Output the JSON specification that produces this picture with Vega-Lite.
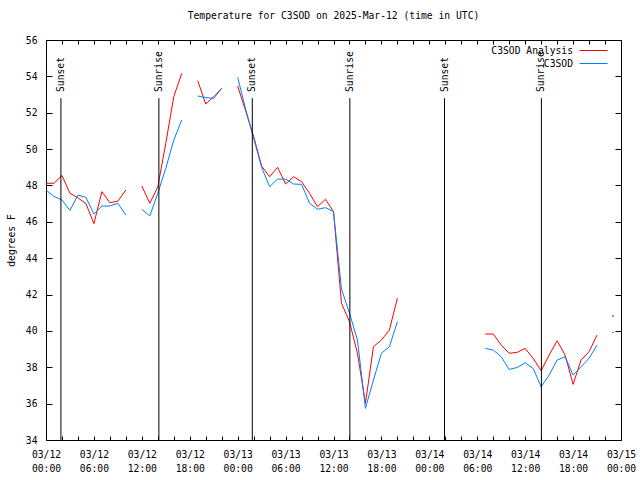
{
  "$schema": "https://vega.github.io/schema/vega-lite/v6.json",
  "width": 575,
  "height": 400,
  "autosize": {"type": "none"},
  "padding": {"left": 46, "top": 40, "right": 19, "bottom": 40},
  "background": "white",
  "title": {"text": "Temperature for C3SOD on 2025-Mar-12 (time in UTC)", "anchor": "middle", "font": "DejaVu Sans Mono", "fontSize": 9.7, "fontWeight": "normal", "color": "black", "offset": 14},
  "config": {
    "view": {"stroke": "black", "strokeWidth": 1},
    "axis": {"domain": false, "grid": false, "labelFont": "DejaVu Sans Mono", "labelFontSize": 9.7, "labelColor": "black", "tickColor": "black", "tickWidth": 1, "titleFont": "DejaVu Sans Mono", "titleFontSize": 9.7, "titleFontWeight": "normal", "titleColor": "black"}
  },
  "datasets": {
    "temps": [
      {"t": "2025-03-12T00:00:00Z", "series": "C3SOD Analysis", "temp": 48.12},
      {"t": "2025-03-12T01:00:00Z", "series": "C3SOD Analysis", "temp": 48.12},
      {"t": "2025-03-12T02:00:00Z", "series": "C3SOD Analysis", "temp": 48.55},
      {"t": "2025-03-12T03:00:00Z", "series": "C3SOD Analysis", "temp": 47.57},
      {"t": "2025-03-12T04:00:00Z", "series": "C3SOD Analysis", "temp": 47.32},
      {"t": "2025-03-12T05:00:00Z", "series": "C3SOD Analysis", "temp": 47.0},
      {"t": "2025-03-12T06:00:00Z", "series": "C3SOD Analysis", "temp": 45.9},
      {"t": "2025-03-12T07:00:00Z", "series": "C3SOD Analysis", "temp": 47.66},
      {"t": "2025-03-12T08:00:00Z", "series": "C3SOD Analysis", "temp": 47.05},
      {"t": "2025-03-12T09:00:00Z", "series": "C3SOD Analysis", "temp": 47.14},
      {"t": "2025-03-12T10:00:00Z", "series": "C3SOD Analysis", "temp": 47.75},
      {"t": "2025-03-12T11:00:00Z", "series": "C3SOD Analysis", "temp": null},
      {"t": "2025-03-12T12:00:00Z", "series": "C3SOD Analysis", "temp": 47.97},
      {"t": "2025-03-12T13:00:00Z", "series": "C3SOD Analysis", "temp": 47.02},
      {"t": "2025-03-12T14:00:00Z", "series": "C3SOD Analysis", "temp": 47.92},
      {"t": "2025-03-12T15:00:00Z", "series": "C3SOD Analysis", "temp": 50.32},
      {"t": "2025-03-12T16:00:00Z", "series": "C3SOD Analysis", "temp": 52.88},
      {"t": "2025-03-12T17:00:00Z", "series": "C3SOD Analysis", "temp": 54.17},
      {"t": "2025-03-12T18:00:00Z", "series": "C3SOD Analysis", "temp": null},
      {"t": "2025-03-12T19:00:00Z", "series": "C3SOD Analysis", "temp": 53.76},
      {"t": "2025-03-12T20:00:00Z", "series": "C3SOD Analysis", "temp": 52.48},
      {"t": "2025-03-12T21:00:00Z", "series": "C3SOD Analysis", "temp": 52.88},
      {"t": "2025-03-12T22:00:00Z", "series": "C3SOD Analysis", "temp": 53.34},
      {"t": "2025-03-12T23:00:00Z", "series": "C3SOD Analysis", "temp": null},
      {"t": "2025-03-13T00:00:00Z", "series": "C3SOD Analysis", "temp": 53.47},
      {"t": "2025-03-13T01:00:00Z", "series": "C3SOD Analysis", "temp": 52.1},
      {"t": "2025-03-13T02:00:00Z", "series": "C3SOD Analysis", "temp": 50.7},
      {"t": "2025-03-13T03:00:00Z", "series": "C3SOD Analysis", "temp": 49.07},
      {"t": "2025-03-13T04:00:00Z", "series": "C3SOD Analysis", "temp": 48.48},
      {"t": "2025-03-13T05:00:00Z", "series": "C3SOD Analysis", "temp": 49.0},
      {"t": "2025-03-13T06:00:00Z", "series": "C3SOD Analysis", "temp": 48.08},
      {"t": "2025-03-13T07:00:00Z", "series": "C3SOD Analysis", "temp": 48.48},
      {"t": "2025-03-13T08:00:00Z", "series": "C3SOD Analysis", "temp": 48.21},
      {"t": "2025-03-13T09:00:00Z", "series": "C3SOD Analysis", "temp": 47.57},
      {"t": "2025-03-13T10:00:00Z", "series": "C3SOD Analysis", "temp": 46.83},
      {"t": "2025-03-13T11:00:00Z", "series": "C3SOD Analysis", "temp": 47.24},
      {"t": "2025-03-13T12:00:00Z", "series": "C3SOD Analysis", "temp": 46.56},
      {"t": "2025-03-13T13:00:00Z", "series": "C3SOD Analysis", "temp": 41.52},
      {"t": "2025-03-13T14:00:00Z", "series": "C3SOD Analysis", "temp": 40.51},
      {"t": "2025-03-13T15:00:00Z", "series": "C3SOD Analysis", "temp": 38.77},
      {"t": "2025-03-13T16:00:00Z", "series": "C3SOD Analysis", "temp": 36.02},
      {"t": "2025-03-13T17:00:00Z", "series": "C3SOD Analysis", "temp": 39.13},
      {"t": "2025-03-13T18:00:00Z", "series": "C3SOD Analysis", "temp": 39.5},
      {"t": "2025-03-13T19:00:00Z", "series": "C3SOD Analysis", "temp": 40.05},
      {"t": "2025-03-13T20:00:00Z", "series": "C3SOD Analysis", "temp": 41.8},
      {"t": "2025-03-13T21:00:00Z", "series": "C3SOD Analysis", "temp": null},
      {"t": "2025-03-14T07:00:00Z", "series": "C3SOD Analysis", "temp": 39.83},
      {"t": "2025-03-14T08:00:00Z", "series": "C3SOD Analysis", "temp": 39.83},
      {"t": "2025-03-14T09:00:00Z", "series": "C3SOD Analysis", "temp": 39.22},
      {"t": "2025-03-14T10:00:00Z", "series": "C3SOD Analysis", "temp": 38.77},
      {"t": "2025-03-14T11:00:00Z", "series": "C3SOD Analysis", "temp": 38.82},
      {"t": "2025-03-14T12:00:00Z", "series": "C3SOD Analysis", "temp": 39.04},
      {"t": "2025-03-14T13:00:00Z", "series": "C3SOD Analysis", "temp": 38.49},
      {"t": "2025-03-14T14:00:00Z", "series": "C3SOD Analysis", "temp": 37.81},
      {"t": "2025-03-14T15:00:00Z", "series": "C3SOD Analysis", "temp": 38.67},
      {"t": "2025-03-14T16:00:00Z", "series": "C3SOD Analysis", "temp": 39.46},
      {"t": "2025-03-14T17:00:00Z", "series": "C3SOD Analysis", "temp": 38.67},
      {"t": "2025-03-14T18:00:00Z", "series": "C3SOD Analysis", "temp": 37.06},
      {"t": "2025-03-14T19:00:00Z", "series": "C3SOD Analysis", "temp": 38.4},
      {"t": "2025-03-14T20:00:00Z", "series": "C3SOD Analysis", "temp": 38.86},
      {"t": "2025-03-14T21:00:00Z", "series": "C3SOD Analysis", "temp": 39.77},
      {"t": "2025-03-14T22:00:00Z", "series": "C3SOD Analysis", "temp": null},
      {"t": "2025-03-14T23:00:00Z", "series": "C3SOD Analysis", "temp": 40.82},
      {"t": "2025-03-12T00:00:00Z", "series": "C3SOD", "temp": 47.75},
      {"t": "2025-03-12T01:00:00Z", "series": "C3SOD", "temp": 47.4},
      {"t": "2025-03-12T02:00:00Z", "series": "C3SOD", "temp": 47.2},
      {"t": "2025-03-12T03:00:00Z", "series": "C3SOD", "temp": 46.63},
      {"t": "2025-03-12T04:00:00Z", "series": "C3SOD", "temp": 47.47},
      {"t": "2025-03-12T05:00:00Z", "series": "C3SOD", "temp": 47.35},
      {"t": "2025-03-12T06:00:00Z", "series": "C3SOD", "temp": 46.43},
      {"t": "2025-03-12T07:00:00Z", "series": "C3SOD", "temp": 46.87},
      {"t": "2025-03-12T08:00:00Z", "series": "C3SOD", "temp": 46.87},
      {"t": "2025-03-12T09:00:00Z", "series": "C3SOD", "temp": 47.02},
      {"t": "2025-03-12T10:00:00Z", "series": "C3SOD", "temp": 46.37},
      {"t": "2025-03-12T11:00:00Z", "series": "C3SOD", "temp": null},
      {"t": "2025-03-12T12:00:00Z", "series": "C3SOD", "temp": 46.69},
      {"t": "2025-03-12T13:00:00Z", "series": "C3SOD", "temp": 46.32},
      {"t": "2025-03-12T14:00:00Z", "series": "C3SOD", "temp": 47.57},
      {"t": "2025-03-12T15:00:00Z", "series": "C3SOD", "temp": 48.94},
      {"t": "2025-03-12T16:00:00Z", "series": "C3SOD", "temp": 50.5},
      {"t": "2025-03-12T17:00:00Z", "series": "C3SOD", "temp": 51.6},
      {"t": "2025-03-12T18:00:00Z", "series": "C3SOD", "temp": null},
      {"t": "2025-03-12T19:00:00Z", "series": "C3SOD", "temp": 52.92},
      {"t": "2025-03-12T20:00:00Z", "series": "C3SOD", "temp": 52.83},
      {"t": "2025-03-12T21:00:00Z", "series": "C3SOD", "temp": 52.79},
      {"t": "2025-03-12T22:00:00Z", "series": "C3SOD", "temp": 53.34},
      {"t": "2025-03-12T23:00:00Z", "series": "C3SOD", "temp": null},
      {"t": "2025-03-13T00:00:00Z", "series": "C3SOD", "temp": 53.95},
      {"t": "2025-03-13T01:00:00Z", "series": "C3SOD", "temp": 52.2},
      {"t": "2025-03-13T02:00:00Z", "series": "C3SOD", "temp": 50.6},
      {"t": "2025-03-13T03:00:00Z", "series": "C3SOD", "temp": 49.0},
      {"t": "2025-03-13T04:00:00Z", "series": "C3SOD", "temp": 47.93},
      {"t": "2025-03-13T05:00:00Z", "series": "C3SOD", "temp": 48.35},
      {"t": "2025-03-13T06:00:00Z", "series": "C3SOD", "temp": 48.35},
      {"t": "2025-03-13T07:00:00Z", "series": "C3SOD", "temp": 48.08},
      {"t": "2025-03-13T08:00:00Z", "series": "C3SOD", "temp": 48.06},
      {"t": "2025-03-13T09:00:00Z", "series": "C3SOD", "temp": 47.02},
      {"t": "2025-03-13T10:00:00Z", "series": "C3SOD", "temp": 46.69},
      {"t": "2025-03-13T11:00:00Z", "series": "C3SOD", "temp": 46.78},
      {"t": "2025-03-13T12:00:00Z", "series": "C3SOD", "temp": 46.56},
      {"t": "2025-03-13T13:00:00Z", "series": "C3SOD", "temp": 42.3},
      {"t": "2025-03-13T14:00:00Z", "series": "C3SOD", "temp": 40.97},
      {"t": "2025-03-13T15:00:00Z", "series": "C3SOD", "temp": 39.5},
      {"t": "2025-03-13T16:00:00Z", "series": "C3SOD", "temp": 35.74},
      {"t": "2025-03-13T17:00:00Z", "series": "C3SOD", "temp": 37.3},
      {"t": "2025-03-13T18:00:00Z", "series": "C3SOD", "temp": 38.77},
      {"t": "2025-03-13T19:00:00Z", "series": "C3SOD", "temp": 39.13},
      {"t": "2025-03-13T20:00:00Z", "series": "C3SOD", "temp": 40.5},
      {"t": "2025-03-13T21:00:00Z", "series": "C3SOD", "temp": null},
      {"t": "2025-03-14T07:00:00Z", "series": "C3SOD", "temp": 39.04},
      {"t": "2025-03-14T08:00:00Z", "series": "C3SOD", "temp": 38.95},
      {"t": "2025-03-14T09:00:00Z", "series": "C3SOD", "temp": 38.58},
      {"t": "2025-03-14T10:00:00Z", "series": "C3SOD", "temp": 37.88},
      {"t": "2025-03-14T11:00:00Z", "series": "C3SOD", "temp": 37.99},
      {"t": "2025-03-14T12:00:00Z", "series": "C3SOD", "temp": 38.25},
      {"t": "2025-03-14T13:00:00Z", "series": "C3SOD", "temp": 37.94},
      {"t": "2025-03-14T14:00:00Z", "series": "C3SOD", "temp": 36.93},
      {"t": "2025-03-14T15:00:00Z", "series": "C3SOD", "temp": 37.57},
      {"t": "2025-03-14T16:00:00Z", "series": "C3SOD", "temp": 38.4},
      {"t": "2025-03-14T17:00:00Z", "series": "C3SOD", "temp": 38.58},
      {"t": "2025-03-14T18:00:00Z", "series": "C3SOD", "temp": 37.57},
      {"t": "2025-03-14T19:00:00Z", "series": "C3SOD", "temp": 38.03},
      {"t": "2025-03-14T20:00:00Z", "series": "C3SOD", "temp": 38.49},
      {"t": "2025-03-14T21:00:00Z", "series": "C3SOD", "temp": 39.22},
      {"t": "2025-03-14T22:00:00Z", "series": "C3SOD", "temp": null},
      {"t": "2025-03-14T23:00:00Z", "series": "C3SOD", "temp": 39.92}
    ],
    "sun": [
      {"t": "2025-03-12T01:52:00Z", "label": "Sunset"},
      {"t": "2025-03-12T14:08:00Z", "label": "Sunrise"},
      {"t": "2025-03-13T01:50:00Z", "label": "Sunset"},
      {"t": "2025-03-13T14:03:00Z", "label": "Sunrise"},
      {"t": "2025-03-14T01:54:00Z", "label": "Sunset"},
      {"t": "2025-03-14T14:02:00Z", "label": "Sunrise"}
    ]
  },
  "layer": [
    {
      "data": {"name": "temps"},
      "mark": {"type": "line", "strokeWidth": 1},
      "encoding": {
        "x": {"field": "t", "type": "temporal",
          "scale": {"type": "utc", "domain": [1741737600000, 1741996800000], "nice": false},
          "axis": {"orient": "bottom", "title": null, "tickCount": 100,
            "values": [1741737600000, 1741744800000, 1741752000000, 1741759200000, 1741766400000, 1741773600000, 1741780800000, 1741788000000, 1741795200000, 1741802400000, 1741809600000, 1741816800000, 1741824000000, 1741831200000, 1741838400000, 1741845600000, 1741852800000, 1741860000000, 1741867200000, 1741874400000, 1741881600000, 1741888800000, 1741896000000, 1741903200000, 1741910400000, 1741917600000, 1741924800000, 1741932000000, 1741939200000, 1741946400000, 1741953600000, 1741960800000, 1741968000000, 1741975200000, 1741982400000, 1741989600000, 1741996800000],
            "tickSize": -4, "labelPadding": 13, "labelBaseline": "top", "labelLineHeight": 14, "labelAlign": "center", "labelOverlap": false, "labelFlush": false,
            "labelExpr": "utchours(datum.value) % 6 == 0 ? [utcFormat(datum.value, '%m/%d'), utcFormat(datum.value, '%H:%M')] : ''"}},
        "y": {"field": "temp", "type": "quantitative",
          "scale": {"domain": [34, 56], "nice": false, "zero": false},
          "axis": {"orient": "left", "title": "degrees F", "tickCount": 100, "format": "d", "values": [34, 36, 38, 40, 42, 44, 46, 48, 50, 52, 54, 56], "tickSize": -6, "labelPadding": 15, "labelOverlap": false, "titleAngle": 270, "titleX": -35, "titleY": 200, "titleAlign": "center", "titleBaseline": "middle"}},
        "color": {"field": "series", "type": "nominal",
          "scale": {"domain": ["C3SOD Analysis", "C3SOD"], "range": ["#ff0000", "#0080ff"]},
          "legend": {"orient": "none", "legendX": 540, "legendY": 3, "title": null, "symbolType": "M-2,0H2", "symbolSize": 196, "symbolStrokeWidth": 1, "symbolFillColor": "transparent", "labelAlign": "right", "labelOffset": -28, "labelFont": "DejaVu Sans Mono", "labelFontSize": 9.7, "labelColor": "black", "rowPadding": 0, "padding": 0}}
      }
    },
    {
      "data": {"name": "sun"},
      "mark": {"type": "rule", "color": "black", "strokeWidth": 1},
      "encoding": {
        "x": {"field": "t", "type": "temporal",
          "axis": {"orient": "top", "title": null, "labels": false, "tickCount": 100,
            "values": [1741737600000, 1741744800000, 1741752000000, 1741759200000, 1741766400000, 1741773600000, 1741780800000, 1741788000000, 1741795200000, 1741802400000, 1741809600000, 1741816800000, 1741824000000, 1741831200000, 1741838400000, 1741845600000, 1741852800000, 1741860000000, 1741867200000, 1741874400000, 1741881600000, 1741888800000, 1741896000000, 1741903200000, 1741910400000, 1741917600000, 1741924800000, 1741932000000, 1741939200000, 1741946400000, 1741953600000, 1741960800000, 1741968000000, 1741975200000, 1741982400000, 1741989600000, 1741996800000],
            "tickSize": -4}},
        "y": {"datum": 52.8, "type": "quantitative",
          "axis": {"orient": "right", "title": null, "labels": false, "tickCount": 100, "values": [34, 36, 38, 40, 42, 44, 46, 48, 50, 52, 54, 56], "tickSize": -6}},
        "y2": {"datum": 34}
      }
    },
    {
      "data": {"name": "sun"},
      "mark": {"type": "text", "angle": 270, "align": "left", "baseline": "middle", "font": "DejaVu Sans Mono", "fontSize": 9.7, "color": "black"},
      "encoding": {
        "x": {"field": "t", "type": "temporal", "axis": null},
        "y": {"datum": 53.14, "type": "quantitative", "axis": null},
        "text": {"field": "label"}
      }
    },
    {
      "data": {"name": "temps"},
      "transform": [{"filter": "time(datum.t) == 1741993200000 && isValid(datum.temp)"}],
      "mark": {"type": "square", "size": 2, "opacity": 1},
      "encoding": {
        "x": {"field": "t", "type": "temporal", "axis": null},
        "y": {"field": "temp", "type": "quantitative", "axis": null},
        "color": {"field": "series", "type": "nominal", "legend": null}
      }
    }
  ],
  "resolve": {"axis": {"x": "independent", "y": "independent"}}
}
